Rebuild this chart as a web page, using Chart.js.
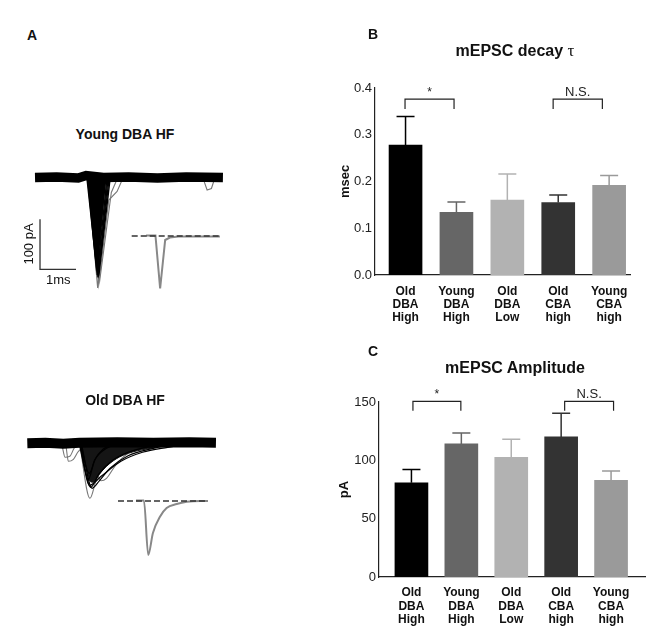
<!DOCTYPE html>
<html><head><meta charset="utf-8">
<script src="https://cdn.jsdelivr.net/npm/chart.js@4.4.1/dist/chart.umd.min.js"></script>
<style>
html,body{margin:0;padding:0;background:#fff;overflow:hidden}
#page{position:relative;width:670px;height:638px;font-family:'Liberation Sans',Arial,sans-serif;color:#111}
canvas{position:absolute}
.t{position:absolute;white-space:nowrap;font-weight:bold}
</style></head><body><div id="page">
<canvas id="cYoung" width="220" height="150" style="left:20px;top:150px"></canvas>
<canvas id="cYoungIn" width="110" height="75" style="left:120px;top:225px"></canvas>
<canvas id="cOld" width="220" height="110" style="left:20px;top:400px"></canvas>
<canvas id="cOldIn" width="110" height="80" style="left:110px;top:490px"></canvas>
<canvas id="cB" width="340" height="330" style="left:330px;top:0px"></canvas>
<canvas id="cC" width="340" height="308" style="left:330px;top:330px"></canvas>
<div class="t" style="left:27px;top:28px;font-size:14px;line-height:14px">A</div>
<div class="t" style="left:368px;top:27px;font-size:14px;line-height:14px">B</div>
<div class="t" style="left:368px;top:344px;font-size:14px;line-height:14px">C</div>
<div class="t" style="left:415px;width:200px;text-align:center;top:43px;font-size:16px;line-height:16px">mEPSC decay <span style="font-family:'Liberation Serif','Times New Roman',serif;font-weight:normal;font-size:17px">&tau;</span></div>
<div class="t" style="left:415px;width:200px;text-align:center;top:360px;font-size:16px;line-height:16px">mEPSC Amplitude</div>
<div class="t" style="left:25px;width:200px;text-align:center;top:127px;font-size:14px;line-height:14px">Young DBA HF</div>
<div class="t" style="left:25px;width:200px;text-align:center;top:393px;font-size:14px;line-height:14px">Old DBA HF</div>
<div class="t" style="left:28px;top:244px;font-size:13px;line-height:13px;font-weight:normal;transform:translate(-50%,-50%) rotate(-90deg)">100 pA</div>
<div class="t" style="left:46px;top:273px;font-size:13px;line-height:13px;font-weight:normal">1ms</div>
</div>
<script>
// ---------- bar chart data ----------
const categories = [['Old','DBA','High'],['Young','DBA','High'],['Old','DBA','Low'],['Old','CBA','high'],['Young','CBA','high']];
const barColors = ['#000000','#666666','#b2b2b2','#333333','#9a9a9a'];
const decayMean = [0.278, 0.134, 0.160, 0.155, 0.192];
const decayErr  = [0.061, 0.022, 0.056, 0.016, 0.021];
const ampMean = [80.8, 114.1, 102.5, 120.1, 82.8];
const ampErr  = [11.4, 9.4, 15.6, 20.2, 8.0];
const decaySig = [{from:-0.01,to:0.953,top:0.376,leg:0.355,label:'*'},{from:2.90,to:3.867,top:0.376,leg:0.355,label:'N.S.'}];
const ampSig = [{from:0.03,to:0.99,top:150.5,leg:142.5,label:'*'},{from:3.07,to:4.05,top:150.5,leg:142.5,label:'N.S.'}];

// ---------- trace data (time in ms, current in pA) ----------
const youngBand = [[0,0],[0.6,1],[1.2,-1],[1.42,4],[1.9,0],[2.6,1],[3.4,-1],[4.2,1],[5.22,0]];
const youngMass = [[1.48,0],[1.63,-110],[1.72,-180],[1.76,-178],[1.84,-100],[1.96,0]];
const youngBlack = [
  [[1.44,0],[1.68,-160],[1.94,0]],
  [[1.46,0],[1.70,-178],[1.97,0]],
  [[1.48,0],[1.73,-195],[2.00,0]],
  [[1.49,0],[1.75,-200],[2.03,0]],
  [[1.51,0],[1.77,-190],[2.06,0]],
  [[1.53,0],[1.79,-185],[2.09,0]]
];
const youngGray = [
  [[1.47,0],[1.74,-221],[1.98,-20],[2.1,0]],
  [[1.50,0],[1.77,-214],[2.05,-45],[2.28,-28],[2.45,0]],
  [[1.52,0],[1.80,-205],[2.12,-30],[2.3,0]],
  [[4.66,0],[4.78,-25],[4.90,-22],[5.0,0]]
];
const scaleBar = [[0.139,-83.6],[0.139,-183.6],[1.139,-183.6]];
const youngInsetBase = [[0,0],[2.45,0]];
const youngInset = [[0.4,1],[0.66,1],[0.79,-105],[0.93,-8],[1.06,-3],[1.3,-1],[2.45,-1]];

const oldBand = [[0,0],[0.5,1],[1.0,-1],[1.45,1],[2.5,2],[3.5,1],[4.5,2],[5.24,1]];
const oldMass = [[1.47,0],[1.62,-45],[1.74,-76],[1.84,-78],[2.0,-62],[2.2,-46],[2.57,-27],[3.05,-15],[3.5,-9],[4.0,0]];
const oldBlack = [
  [[1.44,0],[1.70,-72],[1.86,-35],[2.1,-12],[2.5,0]],
  [[1.47,0],[1.76,-88],[1.98,-62],[2.35,-35],[2.8,-18],[3.4,-6],[4.0,0]],
  [[1.46,0],[1.73,-84],[2.05,-66],[2.6,-36],[3.2,-18],[3.9,-8],[4.6,0]],
  [[1.50,0],[1.80,-90],[2.0,-75],[2.3,-50],[2.8,-25],[3.5,-10],[4.2,0]],
  [[1.48,0],[1.72,-60],[1.9,-30],[2.2,-10],[2.6,0]]
];
const oldGray = [
  [[1.45,0],[1.74,-110],[1.92,-72],[2.2,-42],[2.7,-16],[3.2,-4],[3.6,0]],
  [[0.97,-6],[1.05,-28],[1.18,-26],[1.3,-10],[1.42,0]],
  [[1.08,-8],[1.14,-36],[1.28,-32],[1.4,-18],[1.5,-10]],
  [[1.92,-58],[2.05,-75],[2.2,-70],[2.45,-44],[2.8,-20],[3.2,-8]]
];
const oldInsetBase = [[0,0],[2.5,0]];
const oldInset = [[0.5,1],[0.72,1],[0.84,-108],[0.97,-64],[1.17,-31],[1.35,-14],[1.63,-6],[1.91,-1.5],[2.3,0],[2.5,0]];

Chart.defaults.font.family = "'Liberation Sans', Arial, sans-serif";
Chart.defaults.color = '#222';

// ---------- trace charts ----------
function line(pts, color, width, extra){
  return Object.assign({data: pts.map(p=>({x:p[0], y:p[1]})), showLine:true, borderColor:color,
    borderWidth:width, pointRadius:0, fill:false, tension:0, clip:false}, extra||{});
}
function traceChart(id, datasets, xr, yr){
  return new Chart(document.getElementById(id), {type:'scatter', data:{datasets},
    options:{animation:false, responsive:false, events:[], layout:{padding:0},
      plugins:{legend:{display:false}, tooltip:{enabled:false}},
      scales:{x:{type:'linear', display:false, min:xr[0], max:xr[1]}, y:{type:'linear', display:false, min:yr[0], max:yr[1]}}}});
}
const smooth = {cubicInterpolationMode:'monotone'};
traceChart('cYoung', [
  line(youngBand,'#000',9.5),
  ...youngBlack.map(t=>line(t,'#000',1.4)),
  line(youngMass,'#000',1,{fill:'origin', backgroundColor:'#000'}),
  ...youngGray.map(t=>line(t,'#777',1.1)),
  line(scaleBar,'#333',1.3)
], [-0.4167,5.694], [-245,55]);
traceChart('cYoungIn', [
  line(youngInsetBase,'#333',1.6,{borderDash:[6,3]}),
  line(youngInset,'#888',2)
], [-0.325,2.731], [-128,22]);
traceChart('cOld', [
  line(oldBand,'#000',10),
  ...oldBlack.map(t=>line(t,'#000',1.2,smooth)),
  line(oldMass,'#151515',1,Object.assign({fill:'origin', backgroundColor:'#151515'},smooth)),
  ...oldGray.map(t=>line(t,'#777',1.1,smooth))
], [-0.203,5.908], [-133.4,86.6]);
traceChart('cOldIn', [
  line(oldInsetBase,'#333',1.6,{borderDash:[6,3]}),
  line(oldInset,'#888',2,smooth)
], [-0.222,2.833], [-138,22]);

// ---------- bar charts ----------
function errorBarPlugin(means, errs){
  return {id:'errorBars', afterDatasetsDraw(chart){
    const meta = chart.getDatasetMeta(0), y = chart.scales.y, ctx = chart.ctx;
    meta.data.forEach((bar,i)=>{
      const top = y.getPixelForValue(means[i]+errs[i]);
      ctx.save(); ctx.strokeStyle = barColors[i]; ctx.lineWidth = 1.5;
      ctx.beginPath(); ctx.moveTo(bar.x, bar.y); ctx.lineTo(bar.x, top);
      ctx.moveTo(bar.x-9, top); ctx.lineTo(bar.x+9, top); ctx.stroke(); ctx.restore();
    });
  }};
}
function bracketPlugin(items){
  return {id:'brackets', afterDatasetsDraw(chart){
    const {ctx, scales:{x,y}} = chart;
    items.forEach(b=>{
      const x1=x.getPixelForValue(b.from), x2=x.getPixelForValue(b.to);
      const yt=y.getPixelForValue(b.top), yl=y.getPixelForValue(b.leg);
      ctx.save(); ctx.strokeStyle='#222'; ctx.lineWidth=1.2;
      ctx.beginPath(); ctx.moveTo(x1,yl); ctx.lineTo(x1,yt); ctx.lineTo(x2,yt); ctx.lineTo(x2,yl); ctx.stroke();
      ctx.fillStyle='#222'; ctx.font=(b.label==='*'?'12px':'13px')+" 'Liberation Sans', Arial, sans-serif";
      ctx.textAlign='center'; ctx.textBaseline='alphabetic';
      ctx.fillText(b.label,(x1+x2)/2, yt-3); ctx.restore();
    });
  }};
}
function barChart(id, means, errs, sig, opt){
  return new Chart(document.getElementById(id), {
    type:'bar',
    data:{datasets:[{data: means.map((v,i)=>({x:i, y:v})), backgroundColor:barColors, barThickness:33, borderWidth:0}]},
    options:{animation:false, responsive:false, events:[],
      layout:{padding:opt.padding},
      plugins:{legend:{display:false}, tooltip:{enabled:false}},
      scales:{
        x:{type:'linear', min:opt.xmin, max:opt.xmax, offset:false, grid:{display:false, drawTicks:false, tickLength:0},
           border:{display:true, color:'#222', width:1.2},
           ticks:{stepSize:1, includeBounds:false, autoSkip:false, maxRotation:0, minRotation:0, padding:opt.xpad, color:'#111',
             font:{size:12, weight:'bold', lineHeight:1.1},
             callback:(v)=>Number.isInteger(v)&&v>=0&&v<categories.length?categories[v]:''},
           afterFit:(s)=>{s.height=opt.xh;}},
        y:{min:0, max:opt.ymax, grid:{display:false, drawTicks:false, tickLength:0}, border:{display:true, color:'#222', width:1.2},
           ticks:{stepSize:opt.step, padding:3, color:'#222', font:{size:13}, callback:opt.fmt},
           title:{display:true, text:opt.ytitle, color:'#111', font:{size:13, weight:'bold'}, padding:{top:0,bottom:0}},
           afterFit:(s)=>{s.width=opt.yw;}}
      }},
    plugins:[errorBarPlugin(means, errs), bracketPlugin(sig)]
  });
}
barChart('cB', decayMean, decayErr, decaySig, {padding:{left:8, top:88, right:40, bottom:0},
  xmin:-0.6, xmax:4.41, xpad:10, xh:55, ymax:0.4, step:0.1, fmt:(v)=>v.toFixed(1), ytitle:'msec', yw:37});
barChart('cC', ampMean, ampErr, ampSig, {padding:{left:7, top:72, right:25, bottom:0},
  xmin:-0.65, xmax:4.68, xpad:9.4, xh:61, ymax:150, step:50, fmt:(v)=>String(Math.round(v)), ytitle:'pA', yw:42});
</script>
</body></html>
